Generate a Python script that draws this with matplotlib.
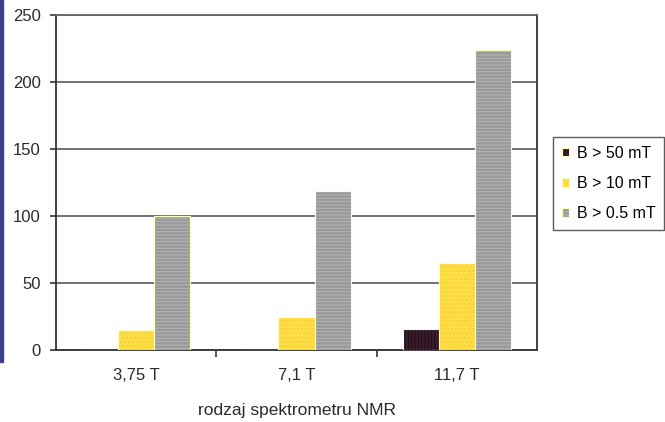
import matplotlib
matplotlib.use("Agg")
import matplotlib.pyplot as plt
import numpy as np
from matplotlib.patches import Rectangle

plt.rcParams['font.family'] = ['Liberation Sans', 'DejaVu Sans']
plt.rcParams['hatch.linewidth'] = 0.6

categories = ["3,75 T", "7,1 T", "11,7 T"]
series_names = ["B > 50 mT", "B > 10 mT", "B > 0.5 mT"]
b50 = [0, 0, 16]
b10 = [15, 25, 65]
b05 = [100, 119, 224]
y_ticks = [0, 50, 100, 150, 200, 250]

faces = ["#3d1a2e", "#ffdd44", "#9a9a9a"]
hatches = ["|||||", "....", "-----"]
hatch_cols = ["#111111", "#f5cc30", "#b8b8b8"]

fig = plt.figure(figsize=(6.65, 4.22), dpi=100)
ax = fig.add_axes([56/665, 1-350/422, (537-56)/665, (350-15)/422])

x = np.arange(len(categories))
w = 0.225
legend_handles = []
for i, (vals, name) in enumerate(zip([b50, b10, b05], series_names)):
    pos = x + (i - 1) * w
    bars = ax.bar(pos, vals, width=w, color=faces[i], edgecolor="#ffffc0",
                  linewidth=0.8, zorder=3, label=name)
    for b in bars:
        b.set_hatch(hatches[i])
        b._hatch_color = matplotlib.colors.to_rgba(hatch_cols[i])
    legend_handles.append(bars)

ax.set_xlim(-0.5, 2.5)
ax.set_ylim(0, 250)
ax.set_yticks(y_ticks)
ax.set_yticklabels([str(t) for t in y_ticks], fontsize=12, color="#2a2a2a")
ax.yaxis.grid(True, color="#666666", linewidth=1.3, zorder=1)
ax.set_xticks(x)
ax.set_xticklabels(categories, fontsize=12, color="#2a2a2a")
ax.tick_params(axis="x", length=0, pad=13)
ax.set_xticks([0.5, 1.5], minor=True)
ax.tick_params(axis="x", which="minor", length=5, width=1.2, color="#333333")
ax.tick_params(axis="y", length=4.3, width=1.2, color="#333333", pad=6.5)
for s in ["left", "bottom", "right", "top"]:
    ax.spines[s].set_color("#333333")
    ax.spines[s].set_linewidth(1.3)
ax.spines["top"].set_color("#666666")
ax.set_xlabel("rodzaj spektrometru NMR", fontsize=12.5, color="#2a2a2a", labelpad=14)

leg = fig.legend(handles=legend_handles, labels=series_names,
                 loc="upper left", bbox_to_anchor=(553/665, 1-137/422),
                 frameon=True, fancybox=False, fontsize=11.5,
                 handlelength=0.45, handleheight=0.45, handletextpad=0.5,
                 labelspacing=0.95, borderpad=0.55, borderaxespad=0)
leg.get_frame().set_edgecolor("#333333")
leg.get_frame().set_linewidth(1.0)

# thin navy strip along the left edge
fig.patches.append(Rectangle((0, 1-362/422), 3/665, 362/422,
                             transform=fig.transFigure, color="#3a3f8f",
                             zorder=0))

fig.savefig("out.png", dpi=100)
